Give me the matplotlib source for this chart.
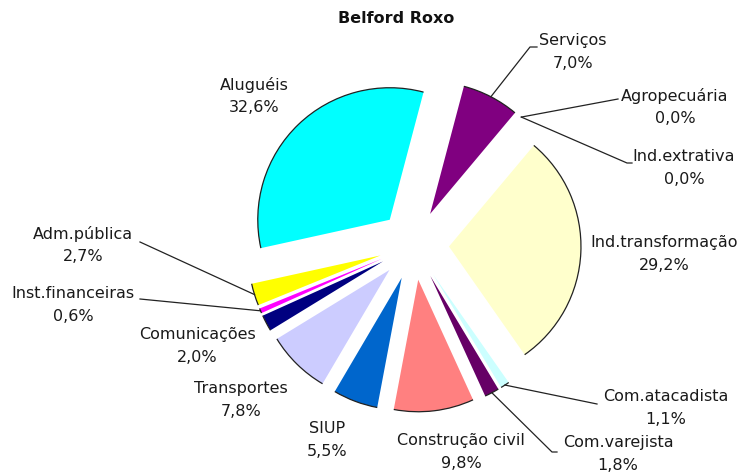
"""Gráfico de pizza: participação dos setores em Belford Roxo"""
import math
import matplotlib
matplotlib.use("Agg")
import matplotlib.pyplot as plt
from matplotlib.patches import Arc


SETORES = ["Agropecuária", "Ind.extrativa", "Ind.transformação",
           "Com.atacadista", "Com.varejista", "Construção civil", "SIUP",
           "Transportes", "Comunicações", "Inst.financeiras", "Adm.pública",
           "Aluguéis", "Serviços"]
PERCENTUAIS = [0.0, 0.0, 29.2, 1.1, 1.8, 9.8, 5.5, 7.8, 2.0, 0.6, 2.7,
               32.6, 7.0]
CORES = ["#9999FF", "#993366", "#FFFFCC", "#CCFFFF", "#660066", "#FF8080",
         "#0066CC", "#CCCCFF", "#000080", "#FF00FF", "#FFFF00", "#00FFFF",
         "#800080"]
TITULO = "Belford Roxo"

# Constantes (em pixels, origem no canto superior esquerdo)
LARGURA, ALTURA = 745, 474
CENTRO = (414, 245)
RAIO = 132
AFASTAMENTO = 35
ANGULO_INICIAL = 50
FONTE = 11.5

# Posição do texto e pontos da linha guia de cada rótulo
ROTULOS = {
    "Serviços": ((573, 52), [(530, 47), (537, 47)]),
    "Agropecuária": ((675, 107), [(618, 99)]),
    "Ind.extrativa": ((684, 168), [(627, 163), (632, 163)]),
    "Ind.transformação": ((664, 254), []),
    "Com.atacadista": ((666, 408), [(597, 404)]),
    "Com.varejista": ((618, 454), [(552, 452), (557, 452)]),
    "Construção civil": ((461, 452), []),
    "SIUP": ((327, 440), []),
    "Transportes": ((241, 400), []),
    "Comunicações": ((197, 346), []),
    "Inst.financeiras": ((73, 305), [(140, 299)]),
    "Adm.pública": ((83, 245), [(140, 242)]),
    "Aluguéis": ((254, 96), []),
}


def _py(y):
    # Converte a coordenada vertical de pixels para o eixo
    return ALTURA - y


def _ponto_no_arco(fatia):
    # Ponto sobre o arco externo, no meio da fatia
    meio = math.radians((fatia.theta1 + fatia.theta2) / 2)
    cx, cy = fatia.center
    return cx + fatia.r * math.cos(meio), cy + fatia.r * math.sin(meio)


figura = plt.figure(figsize=(LARGURA / 100, ALTURA / 100), dpi=100)
eixo = figura.add_axes([0, 0, 1, 1])

fatias, _ = eixo.pie(PERCENTUAIS, colors=CORES, startangle=ANGULO_INICIAL,
                     counterclock=False, radius=RAIO,
                     center=(CENTRO[0], _py(CENTRO[1])),
                     explode=[AFASTAMENTO] * len(PERCENTUAIS),
                     wedgeprops={"linewidth": 0})

# Contorno escuro apenas na borda externa de cada fatia
for fatia, valor in zip(fatias, PERCENTUAIS):
    if valor == 0:
        continue
    eixo.add_patch(Arc(fatia.center, 2 * fatia.r, 2 * fatia.r,
                       theta1=fatia.theta1, theta2=fatia.theta2,
                       color="#222222", linewidth=0.9))

for fatia, setor, valor in zip(fatias, SETORES, PERCENTUAIS):
    (tx, ty), guia = ROTULOS[setor]
    texto = "{}\n{}%".format(setor, "{:.1f}".format(valor).replace(".", ","))
    eixo.text(tx, _py(ty), texto, ha="center", va="center", fontsize=FONTE,
              color="#1a1a1a", linespacing=1.65)
    if guia:
        x0, y0 = _ponto_no_arco(fatia)
        xs = [x0] + [p[0] for p in guia]
        ys = [y0] + [_py(p[1]) for p in guia]
        eixo.plot(xs, ys, color="#222222", linewidth=0.9)

eixo.text(396, _py(18), TITULO, ha="center", va="center", fontsize=FONTE,
          fontweight="bold", color="#111111")

eixo.set_xlim(0, LARGURA)
eixo.set_ylim(0, ALTURA)
eixo.set_aspect("equal")
eixo.axis("off")

figura.savefig("out.png", dpi=100)
plt.close(figura)
